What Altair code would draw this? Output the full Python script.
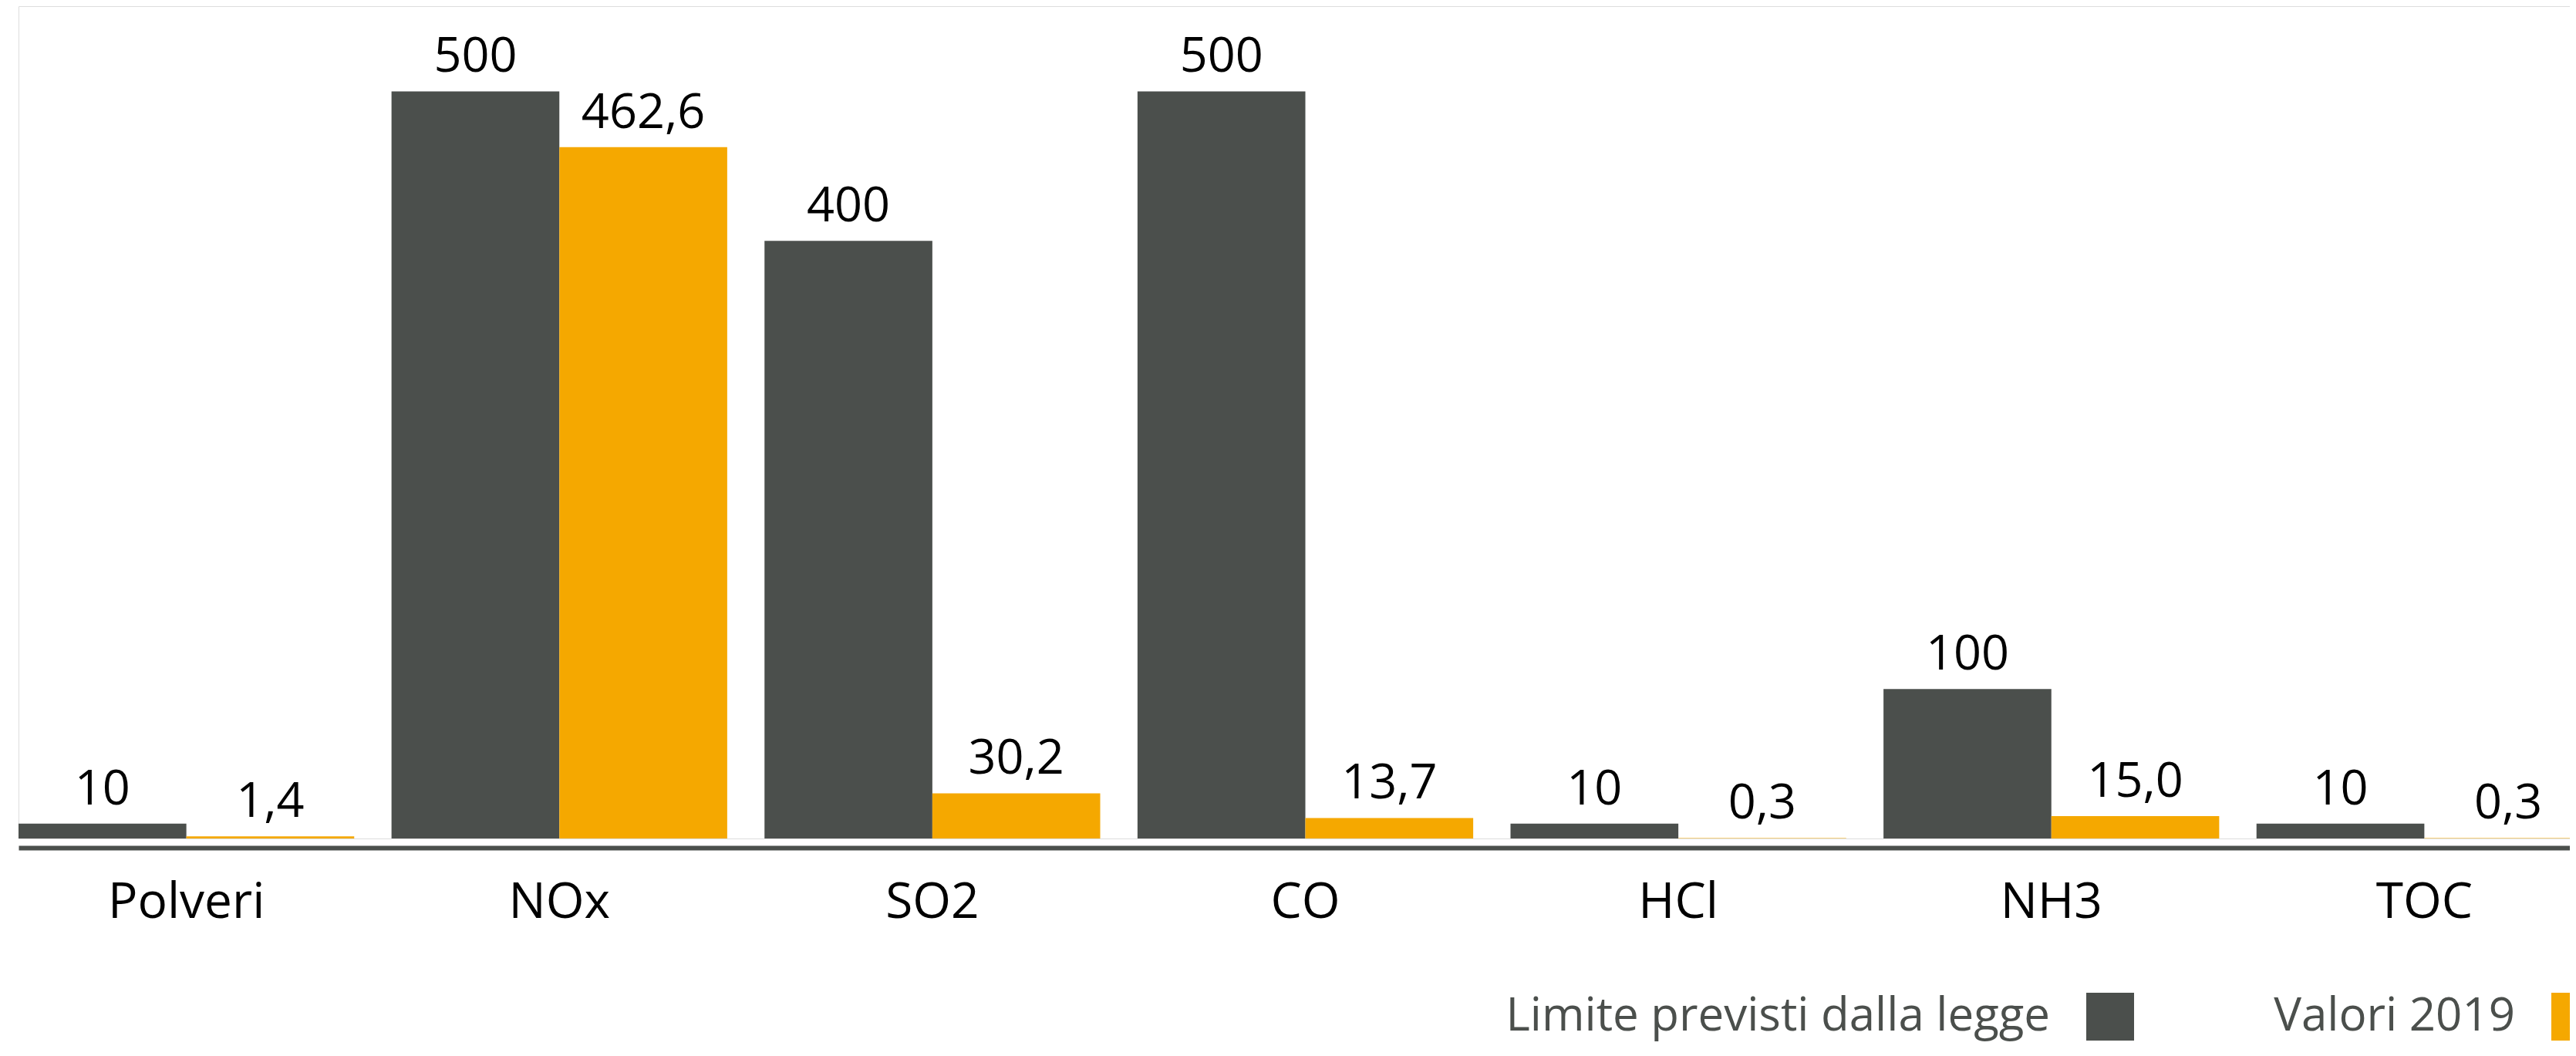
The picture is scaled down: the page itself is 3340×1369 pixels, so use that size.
import altair as alt
import pandas as pd

categories = ["Polveri", "NOx", "SO2", "CO", "HCl", "NH3", "TOC"]
series_names = ["Limite previsti dalla legge", "Valori 2019"]
limits = [10, 500, 400, 500, 10, 100, 10]
values_2019 = [1.4, 462.6, 30.2, 13.7, 0.3, 15.0, 0.3]
colors = ["#4B4F4C", "#F5A800"]

rows = []
for c, l, v in zip(categories, limits, values_2019):
    rows.append({"cat": c, "serie": series_names[0], "val": l, "lab": str(l)})
    rows.append({"cat": c, "serie": series_names[1], "val": v,
                 "lab": f"{v:.1f}".replace(".", ",")})
df = pd.DataFrame(rows)

FONT = "Open Sans"

x = alt.X(
    "cat:N", sort=categories,
    scale=alt.Scale(paddingInner=0.1, paddingOuter=0),
    axis=alt.Axis(title=None, labelAngle=0, ticks=False, tickSize=0,
                  labelFontSize=64, labelColor="#000000", labelFont=FONT,
                  labelPadding=39, labelLimit=1000, labelOverlap=False,
                  domainColor="#4B4F4C", domainWidth=6,
                  offset=12, grid=False),
)
xo = alt.XOffset("serie:N", sort=series_names,
                 scale=alt.Scale(paddingInner=0, paddingOuter=0))
y = alt.Y("val:Q", scale=alt.Scale(domain=[0, 557], nice=False), axis=None)

base = alt.Chart(df)

bars = base.mark_bar(strokeWidth=0).encode(
    x=x, xOffset=xo, y=y,
    color=alt.Color(
        "serie:N", sort=series_names,
        scale=alt.Scale(domain=series_names, range=colors),
        legend=alt.Legend(
            title=None, orient="none", legendX=2681, legendY=1279,
            direction="horizontal", symbolType="square", symbolSize=3844,
            symbolStrokeWidth=0, symbolOpacity=1, labelFontSize=60,
            labelFont=FONT, labelColor="#4B4F4C", labelLimit=2000,
            labelAlign="right", labelOffset={"expr": "-109"},
            columnPadding=181, padding=0, offset=0,
        ),
    ),
)

labels = base.mark_text(baseline="alphabetic", dy=-25, fontSize=63,
                        font=FONT, color="#000000").encode(
    x=x, xOffset=xo, y=y, text="lab:N"
)

chart = (
    alt.layer(bars, labels)
    .properties(width=3337, height=1079,
                autosize=alt.AutoSizeParams(type="none"),
                padding={"left": 16, "top": 0, "right": -29, "bottom": 274})
    .configure_view(stroke=None)
    .configure(background="white", font=FONT)
)

chart.save("out.html", embed_options={"renderer": "svg", "actions": False})
